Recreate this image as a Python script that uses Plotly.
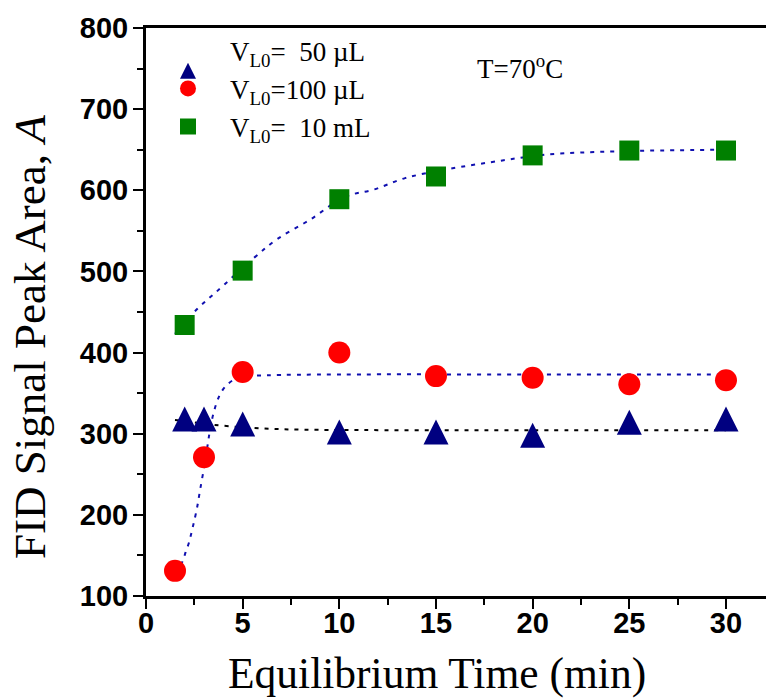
import plotly.graph_objects as go

# Measured peak areas at each equilibrium time (min)
t_50uL = [2, 3, 5, 10, 15, 20, 25, 30]
a_50uL = [318, 318, 312, 302, 302, 298, 314, 318]

t_100uL = [1.5, 3, 5, 10, 15, 20, 25, 30]
a_100uL = [131, 271, 376, 400, 371, 369, 361, 366]

t_10mL = [2, 5, 10, 15, 20, 25, 30]
a_10mL = [434, 501, 589, 617, 643, 649, 649]

# Fitted curves traced through each series
fit_t_50uL = [1.5, 2.5, 3.5, 5, 6.5, 8, 10, 15, 20, 30]
fit_a_50uL = [317, 314, 311, 308, 306, 305, 304.6, 304.3, 304.3, 304.3]

fit_t_100uL = [1.5, 1.9, 2.05, 2.2, 2.3, 2.4, 2.5, 2.65, 2.8, 3.0, 3.2, 3.3,
               3.5, 3.8, 4.1, 4.5, 4.9, 6.2, 10, 20, 30]
fit_a_100uL = [128, 143, 154, 164, 173, 183, 193, 210, 231, 258, 288, 303,
               326, 347, 358, 366, 370, 372, 373, 373, 373]

fit_t_10mL = [1.5, 2.7, 3.6, 5.6, 6.8, 8.5, 10.3, 11.8, 13.4, 15.6, 18.5,
              20.7, 24.4, 30]
fit_a_10mL = [423, 455, 474, 517, 540, 564, 592, 601, 615, 626, 637,
              644, 648, 650]

names = ["V<sub>L0</sub>=\u00a0\u00a050 \u00b5L",
         "V<sub>L0</sub>=100 \u00b5L",
         "V<sub>L0</sub>=\u00a0\u00a010 mL"]

SERIF = "Liberation Serif, Times New Roman, serif"
SANS = "Liberation Sans, Arial, sans-serif"
FIT_BLUE = "#1010b0"
DOTS = "4px,6px"

fig = go.Figure()

# fitted curves (drawn under the markers)
fig.add_trace(go.Scatter(x=fit_t_50uL, y=fit_a_50uL, mode="lines", showlegend=False,
                         line=dict(color="black", width=2, dash=DOTS, shape="spline"),
                         hoverinfo="skip"))
fig.add_trace(go.Scatter(x=fit_t_100uL, y=fit_a_100uL, mode="lines", showlegend=False,
                         line=dict(color=FIT_BLUE, width=2, dash=DOTS, shape="spline"),
                         hoverinfo="skip"))
fig.add_trace(go.Scatter(x=fit_t_10mL, y=fit_a_10mL, mode="lines", showlegend=False,
                         line=dict(color=FIT_BLUE, width=2, dash=DOTS, shape="spline"),
                         hoverinfo="skip"))

# measured points
fig.add_trace(go.Scatter(x=t_50uL, y=a_50uL, mode="markers", name=names[0],
                         marker=dict(symbol="arrow-down", angle=180, standoff=12.5,
                                     size=25, color="#000080", line=dict(width=0))))
fig.add_trace(go.Scatter(x=t_100uL, y=a_100uL, mode="markers", name=names[1],
                         marker=dict(symbol="circle", size=22, color="#ff0000",
                                     line=dict(width=0))))
fig.add_trace(go.Scatter(x=t_10mL, y=a_10mL, mode="markers", name=names[2],
                         marker=dict(symbol="square", size=20, color="#008000",
                                     line=dict(width=0))))

axis_common = dict(
    showline=True, linewidth=3, linecolor="black",
    ticks="outside", ticklen=10, tickwidth=2, tickcolor="black",
    showgrid=False, zeroline=False,
    tickfont=dict(family=SANS, size=29, color="black", weight="bold"),
)

fig.update_xaxes(
    range=[0, 32.07], tick0=0, dtick=5, mirror=True, ticklabelstandoff=-11,
    minor=dict(dtick=2.5, ticks="outside", ticklen=6, tickwidth=2, tickcolor="black"),
    **axis_common,
)
fig.update_yaxes(
    range=[100, 800], tick0=100, dtick=100, ticklabelstandoff=-1,
    minor=dict(dtick=50, ticks="outside", ticklen=6, tickwidth=2, tickcolor="black"),
    **axis_common,
)

# axis titles
fig.add_annotation(text="Equilibrium Time (min)", xref="paper", yref="paper",
                   x=0.469, y=-0.136, xanchor="center", yanchor="middle",
                   showarrow=False, font=dict(family=SERIF, size=43.5, color="black"))
fig.add_annotation(text="FID Signal Peak Area, <i>A</i>", xref="paper", yref="paper",
                   x=-0.187, y=0.456, xanchor="center", yanchor="middle",
                   textangle=-90, showarrow=False,
                   font=dict(family=SERIF, size=45, color="black"))

fig.add_annotation(text="T=70<sup>o</sup>C", xref="paper", yref="paper",
                   x=0.603, y=0.965, showarrow=False,
                   font=dict(family=SERIF, size=27, color="black"))

fig.update_layout(
    width=766, height=700,
    margin=dict(l=146, r=0, t=28, b=104, autoexpand=False),
    paper_bgcolor="white", plot_bgcolor="white",
    showlegend=True,
    legend=dict(x=0.0, y=1.003, xanchor="left", yanchor="top",
                bgcolor="rgba(0,0,0,0)", itemwidth=74, itemsizing="trace",
                font=dict(family=SERIF, size=27, color="black")),
)

fig.write_html("out.html")
